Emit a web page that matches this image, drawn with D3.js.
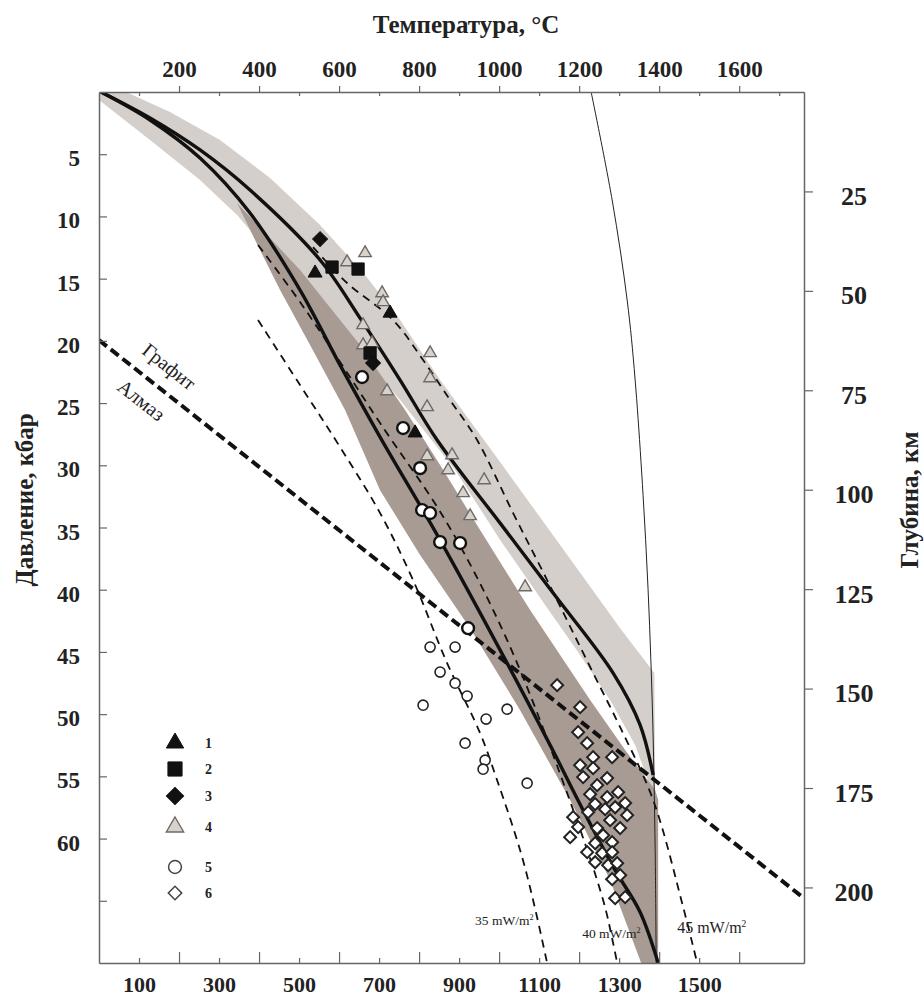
<!DOCTYPE html>
<html><head><meta charset="utf-8">
<script src="https://cdn.jsdelivr.net/npm/d3@7/dist/d3.min.js"></script>
<style>body{margin:0;background:#fff}svg{display:block}text{font-family:"Liberation Serif","Times New Roman",serif;}</style>
</head><body><svg id="c" width="924" height="999"></svg>
<script>
// ---- DATA (T in °C, P in kbar) ----
const tempTicksTop = [200,400,600,800,1000,1200,1400,1600];
const tempTicksBottom = [100,300,500,700,900,1100,1300,1500];
const pressureTicks = [5,10,15,20,25,30,35,40,45,50,55,60];
const depthTicks = [25,50,75,100,125,150,175,200];

const geothermHotT = [5,127.5,252.5,377.5,552.5,652.5,752.5,845,1002.5,1135,1285,1352.5,1385];
const geothermHotP = [0,2.09,4.66,7.88,13.5,18.17,23.15,27.97,34.65,40.27,46.7,50.88,54.9];
const geothermColdT = [5,127.5,252.5,377.5,502.5,602.5,702.5,852.5,1020,1127.5,1210,1290,1352.5,1397.5];
const geothermColdP = [0,2.25,5.31,9.73,15.92,21.95,27.73,36.01,45.9,52.49,57.72,62.54,65.92,70];
const adiabatT = [1230,1282.5,1320,1340,1367.5,1382.5,1390,1392.5];
const adiabatP = [0,8.68,16.72,23.15,36.82,48.87,60.93,70];

const lightBandT = [0,67.5,177.5,302.5,427.5,552.5,665,752.5,852.5,1002.5,1152.5,1302.5,1388,1390,1340,1277.5,1202.5,1115,1002.5,890,752.5,602.5,452.5,345,252.5,127.5,0];
const lightBandP = [0,0,1.61,3.86,6.91,10.69,14.71,18.33,23.15,29.74,36.41,43.09,46.7,56.9,52.48,48.86,45.25,41.23,36.0,30.38,24.75,19.13,13.9,9.89,7.07,3.86,0.64];
const darkBandT = [345,390,452.5,527.5,615,702.5,802.5,927.5,1052.5,1177.5,1277.5,1355,1397.5,1397.5,1390,1315,1227.5,1077.5,952.5,852.5,765,652.5,502.5];
const darkBandP = [8.92,11.9,15.92,20.34,25.56,32,37.22,43.09,49.68,56.91,63.34,70,70,56.9,56.1,52.89,48.86,41.64,35.21,29.98,25.56,20.34,14.31];

const hf35T = [397.5,502.5,602.5,702.5,785,870,952.5,995,1052.5,1085,1120];
const hf35P = [18.33,23.55,28.54,33.84,39.23,45.9,51.53,55.31,60.93,64.95,70];
const hf40T = [397.5,502.5,602.5,702.5,870,1020,1170,1260,1285,1295];
const hf40P = [12.3,16.88,21.7,26.61,34.65,44.05,56.35,64.95,68.41,70];
const hf45T = [535,620,735,810,877.5,945,1035,1120,1235,1302.5,1385,1460,1495];
const hf45P = [12.46,15.35,18.33,21.54,24.76,27.97,33.84,39.23,46.7,51.05,56.91,65.51,70];
const graphiteDiamondT = [0,1762];
const graphiteDiamondP = [19.94,64.8];

const s1T = [540,727.5,790];            const s1P = [14.55,17.77,27.4];
const s2T = [582.5,647.5,677.5];        const s2P = [14.07,14.23,20.98];
const s3T = [552.5,685];                const s3P = [11.82,21.78];
const s4T = [665,620,707.5,710,660,660,682.5,827.5,827.5,720,820,820,882.5,872.5,962.5,910,927.5,1065];
const s4P = [12.94,13.67,16.16,16.88,18.73,20.34,20.18,20.98,22.99,24.04,25.32,29.26,29.18,30.39,31.19,32.23,34.08,39.79];
const s5aT = [657.5,760,802.5,807.5,827.5,852.5,902.5,922.5];
const s5aP = [22.91,27.01,30.23,33.6,33.84,36.17,36.25,43.09];
const s5bT = [827.5,890,852.5,890,920,810,1020,967.5,915,965,960,1070];
const s5bP = [44.61,44.61,46.62,47.51,48.55,49.28,49.6,50.4,52.33,53.7,54.42,55.55];
const s6T = [1145,1202.5,1197.5,1220,1235,1282.5,1202.5,1235,1210,1270,1245,1297.5,1227.5,1270,1315,1240,1290,1222.5,1265,1320,1185,1277.5,1197.5,1302.5,1245,1260,1177.5,1282.5,1240,1220,1257.5,1282.5,1240,1272.5,1295,1302.5,1282.5,1290,1315];
const s6P = [47.67,49.44,51.45,52.33,53.46,53.46,54.1,54.34,55.06,55.14,55.71,56.27,56.43,56.67,57.15,57.23,57.48,57.88,57.64,58.12,58.28,58.52,59.08,59.16,59.16,59.73,59.89,60.29,60.37,61.09,61.17,61.09,61.9,62.14,61.98,62.94,63.26,64.79,64.71];

const legendLabels = ["1","2","3","4","5","6"];

// ---- CHART ----
(function(){
const svg = d3.select("#c");
const x = d3.scaleLinear().domain([0,1762]).range([99,804]);
const y = d3.scaleLinear().domain([0,70]).range([92,963]);
const yDepth = d3.scaleLinear().domain([0,219]).range([92,963]);
const zip = (a,b) => a.map((v,i)=>[v,b[i]]);
const font = '"Liberation Serif","Times New Roman",serif';

svg.append("clipPath").attr("id","pc").append("rect")
  .attr("x",99).attr("y",92).attr("width",705).attr("height",871);
const g = svg.append("g").attr("clip-path","url(#pc)");

const poly = d3.line().x(d=>x(d[0])).y(d=>y(d[1])).curve(d3.curveLinearClosed);
g.append("path").attr("d", poly(zip(lightBandT,lightBandP))).attr("fill","#d5cfcb");
g.append("path").attr("d", poly(zip(darkBandT,darkBandP))).attr("fill","#a89b94");

const smooth = d3.line().x(d=>x(d[0])).y(d=>y(d[1])).curve(d3.curveCatmullRom.alpha(0.5));
g.append("path").attr("d", smooth(zip(adiabatT,adiabatP))).attr("fill","none").attr("stroke","#222").attr("stroke-width",1);
[[hf35T,hf35P],[hf40T,hf40P],[hf45T,hf45P]].forEach(([t,p])=>{
  g.append("path").attr("d", smooth(zip(t,p))).attr("fill","none").attr("stroke","#111")
   .attr("stroke-width",1.8).attr("stroke-dasharray","8,6");
});
g.append("path").attr("d", smooth(zip(geothermHotT,geothermHotP))).attr("fill","none").attr("stroke","#111").attr("stroke-width",3.4);
g.append("path").attr("d", smooth(zip(geothermColdT,geothermColdP))).attr("fill","none").attr("stroke","#111").attr("stroke-width",3.4);
g.append("path").attr("d", d3.line().x(d=>x(d[0])).y(d=>y(d[1]))(zip(graphiteDiamondT,graphiteDiamondP)))
  .attr("fill","none").attr("stroke","#111").attr("stroke-width",4).attr("stroke-dasharray","10,5");

const ang = Math.atan2(y(graphiteDiamondP[1])-y(graphiteDiamondP[0]), x(graphiteDiamondT[1])-x(graphiteDiamondT[0]))*180/Math.PI;
svg.append("text").attr("transform",`translate(${x(165)},${y(22.5)}) rotate(${ang})`).attr("text-anchor","middle")
  .attr("font-size",20).attr("fill","#222").text("Графит");
svg.append("text").attr("transform",`translate(${x(95)},${y(25.2)}) rotate(${ang})`).attr("text-anchor","middle")
  .attr("font-size",20).attr("fill","#222").text("Алмаз");

function hfLabel(t,p,num,fs){
  const tx = svg.append("text").attr("x",x(t)).attr("y",y(p)).attr("font-size",fs).attr("fill","#222");
  tx.append("tspan").text(num+" mW/m");
  tx.append("tspan").attr("font-size",fs*0.6).attr("dy",-fs*0.4).text("2");
}
hfLabel(940,66.95,"35",13.5);
hfLabel(1207.5,68.0,"40",13.5);
hfLabel(1445,67.6,"45",16);

const tri = d3.symbol().type(d3.symbolTriangle);
const sq = d3.symbol().type(d3.symbolSquare);
const circ = d3.symbol().type(d3.symbolCircle);
function draw(tArr,pArr,path,fill,stroke,sw,rot){
  g.selectAll(null).data(zip(tArr,pArr)).enter().append("path")
    .attr("d",path).attr("transform",d=>`translate(${x(d[0])},${y(d[1])}) rotate(${rot||0})`)
    .attr("fill",fill).attr("stroke",stroke).attr("stroke-width",sw);
}
draw(s4T,s4P,tri.size(68)(),"#d8d2cd","#6e6a67",1.4);
draw(s6T,s6P,sq.size(72)(),"#fff","#222",2,45);
draw(s5bT,s5bP,circ.size(80)(),"#fff","#222",1.6);
draw(s5aT,s5aP,circ.size(110)(),"#fff","#111",2.4);
draw(s1T,s1P,tri.size(85)(),"#111","#111",1);
draw(s2T,s2P,sq.size(150)(),"#111","#111",1);
draw(s3T,s3P,sq.size(110)(),"#111","#111",1,45);

const lg = svg.append("g");
const legY = [743,769,796,827,867,893];
const legSym = [
  [tri.size(130)(),"#111","#111",1,0],
  [sq.size(200)(),"#111","#111",1,0],
  [sq.size(150)(),"#111","#111",1,45],
  [tri.size(130)(),"#d8d2cd","#6e6a67",1.4,0],
  [circ.size(130)(),"#fff","#444",1.5,0],
  [sq.size(90)(),"#fff","#444",1.5,45]
];
legendLabels.forEach((l,i)=>{
  const s = legSym[i];
  lg.append("path").attr("d",s[0]).attr("transform",`translate(175,${legY[i]}) rotate(${s[4]})`)
    .attr("fill",s[1]).attr("stroke",s[2]).attr("stroke-width",s[3]);
  lg.append("text").attr("x",205).attr("y",legY[i]+5).attr("font-size",14).attr("font-weight","bold").attr("fill","#222").text(l);
});

const axCol = "#666";
function styleAxis(sel,fs){
  sel.select(".domain").attr("stroke",axCol).attr("stroke-width",1.5);
  sel.selectAll(".tick line").attr("stroke",axCol).attr("stroke-width",1.2);
  sel.selectAll("text").attr("font-family",font).attr("font-weight","bold").attr("font-size",fs).attr("fill","#222");
}
const allT = d3.range(100,1800,100);
const axTop = svg.append("g").attr("transform","translate(0,92)")
  .call(d3.axisTop(x).tickValues(allT).tickSize(6).tickSizeOuter(0).tickPadding(9).tickFormat(d=>tempTicksTop.includes(d)?d:""));
styleAxis(axTop,23);
axTop.selectAll(".tick line").attr("y2",d=>d%200===0?-6:4);
const axBot = svg.append("g").attr("transform","translate(0,963)")
  .call(d3.axisBottom(x).tickValues(allT.filter(d=>d<1700)).tickSize(-11).tickSizeOuter(0).tickPadding(13).tickFormat(d=>tempTicksBottom.includes(d)?d:""));
styleAxis(axBot,22);
axBot.selectAll(".tick line").attr("y2",d=>d%200===0?-11:-5);
const axLeft = svg.append("g").attr("transform","translate(99,0)")
  .call(d3.axisLeft(y).tickValues(pressureTicks.concat([65])).tickSize(-8).tickSizeOuter(0).tickPadding(19).tickFormat(d=>pressureTicks.includes(d)?d:""));
styleAxis(axLeft,23);
axLeft.selectAll(".tick text").attr("dy","0.5em");
const axRight = svg.append("g").attr("transform","translate(804,0)")
  .call(d3.axisRight(yDepth).tickValues(depthTicks).tickSize(9).tickSizeOuter(0).tickPadding(14));
styleAxis(axRight,26);
axRight.selectAll(".tick text").attr("text-anchor","middle").attr("x",50).attr("dy","0.5em");

svg.append("text").attr("x",466).attr("y",33).attr("text-anchor","middle").attr("font-size",25).attr("font-weight","bold").attr("fill","#222").text("Температура, °C");
svg.append("text").attr("transform","translate(33,500) rotate(-90)").attr("text-anchor","middle").attr("font-size",25).attr("font-weight","bold").attr("fill","#222").text("Давление, кбар");
svg.append("text").attr("transform","translate(918,500) rotate(-90)").attr("text-anchor","middle").attr("font-size",25).attr("font-weight","bold").attr("fill","#222").text("Глубина, км");
})();
</script></body></html>
